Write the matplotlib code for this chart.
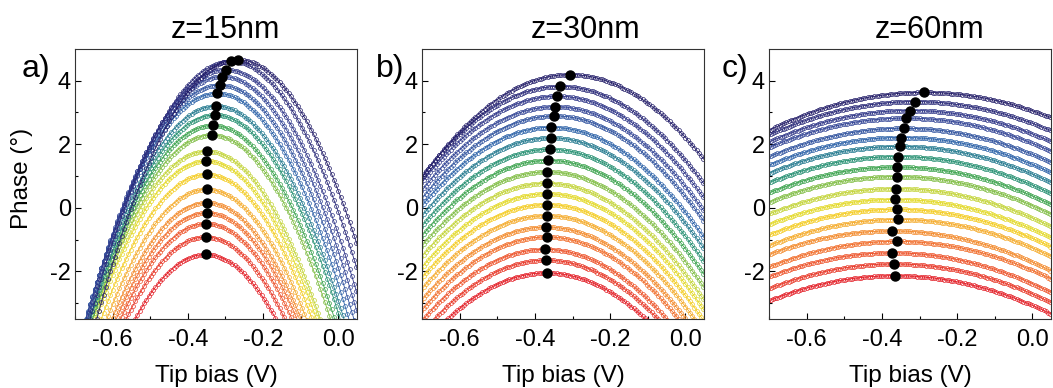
import numpy as np
import matplotlib
matplotlib.use("Agg")
import matplotlib.pyplot as plt
from matplotlib.colors import LinearSegmentedColormap

plt.rcParams["font.family"] = ["Liberation Sans", "DejaVu Sans"]

titles = ["z=15nm", "z=30nm", "z=60nm"]
panel_labels = ["a)", "b)", "c)"]

# vertex (tip bias, phase) of each fitted parabola, bottom (red) to top (navy)
peak_x_15 = [-0.353, -0.353, -0.351, -0.350, -0.350, -0.350, -0.350, -0.351, -0.350, -0.337,
             -0.334, -0.328, -0.325, -0.322, -0.315, -0.308, -0.299, -0.286, -0.267]
peak_y_15 = [-1.47, -0.92, -0.50, -0.16, 0.16, 0.58, 1.05, 1.47, 1.78, 2.29,
             2.59, 2.92, 3.20, 3.60, 3.86, 4.13, 4.35, 4.61, 4.66]

peak_x_30 = [-0.369, -0.370, -0.373, -0.369, -0.370, -0.369, -0.369, -0.368, -0.369, -0.367,
             -0.364, -0.361, -0.358, -0.357, -0.348, -0.346, -0.341, -0.333, -0.307]
peak_y_30 = [-2.05, -1.65, -1.31, -0.92, -0.61, -0.25, 0.10, 0.44, 0.77, 1.13,
             1.49, 1.84, 2.20, 2.53, 2.89, 3.18, 3.51, 3.82, 4.19]

peak_x_60 = [-0.365, -0.367, -0.372, -0.361, -0.374, -0.357, -0.361, -0.365, -0.363, -0.361,
             -0.360, -0.358, -0.353, -0.348, -0.342, -0.336, -0.324, -0.312, -0.287]
peak_y_60 = [-2.14, -1.77, -1.42, -1.06, -0.73, -0.37, -0.05, 0.26, 0.60, 0.98,
             1.28, 1.61, 1.93, 2.21, 2.50, 2.82, 3.06, 3.34, 3.63]

# curvature of the parabolas in each panel (deg / V^2)
curvature = [58, 21, 7]

peaks_x = [peak_x_15, peak_x_30, peak_x_60]
peaks_y = [peak_y_15, peak_y_30, peak_y_60]

cmap = LinearSegmentedColormap.from_list(
    "spec",
    [(0.0, "#e31d25"), (0.14, "#f0602a"), (0.26, "#f5a02c"), (0.36, "#f3dc1f"),
     (0.46, "#b9d23e"), (0.55, "#3fa54a"), (0.63, "#1f8a7e"), (0.72, "#2c62a8"),
     (0.86, "#333d91"), (1.0, "#221c68")],
)

fig = plt.figure(figsize=(10.53, 3.88), dpi=100)
lefts = [0.0712, 0.4008, 0.7303]
title_x = [0.532, 0.578, 0.569]
label_x = [22, 376, 722]

bias = np.arange(-0.72, 0.07, 0.006)

for k in range(3):
    ax = fig.add_axes([lefts[k], 0.178, 0.268, 0.696])
    n = len(peaks_x[k])
    for i in range(n):
        color = cmap(i / (n - 1))
        phase = peaks_y[k][i] - curvature[k] * (bias - peaks_x[k][i]) ** 2
        ax.plot(bias, phase, color=color, lw=0.6, marker="o", ms=2.8,
                mfc="none", mew=0.5)
    ax.plot(peaks_x[k], peaks_y[k], "o", color="black", ms=6.5, zorder=5)

    ax.set_xlim(-0.70, 0.05)
    ax.set_ylim(-3.5, 5.0)
    ax.set_xticks([-0.6, -0.4, -0.2, 0.0])
    ax.set_xticks([-0.7, -0.5, -0.3, -0.1], minor=True)
    ax.set_yticks([-2, 0, 2, 4])
    ax.set_yticks([-3, -1, 1, 3], minor=True)
    ax.set_xticklabels(["-0.6", "-0.4", "-0.2", "0.0"])
    ax.set_yticklabels(["-2", "0", "2", "4"])
    ax.tick_params(which="both", direction="in", labelsize=17)
    ax.tick_params(which="major", length=4, width=0.8)
    ax.tick_params(which="minor", length=2.5, width=0.8)
    ax.tick_params(axis="x", pad=7)
    ax.tick_params(axis="y", pad=3)
    for s in ax.spines.values():
        s.set_linewidth(0.8)
        s.set_color("#333333")

    ax.set_xlabel("Tip bias (V)", fontsize=17.5, labelpad=10)
    if k == 0:
        ax.set_ylabel("Phase (°)", fontsize=17.5)
        ax.yaxis.set_label_coords(-0.15, 0.52)
    ax.set_title(titles[k], fontsize=22, x=title_x[k], pad=8)
    fig.text(label_x[k] / 1053, 1 - 77 / 388, panel_labels[k], fontsize=23,
             ha="left", va="baseline")

plt.savefig("out.png", dpi=100)
plt.close()
